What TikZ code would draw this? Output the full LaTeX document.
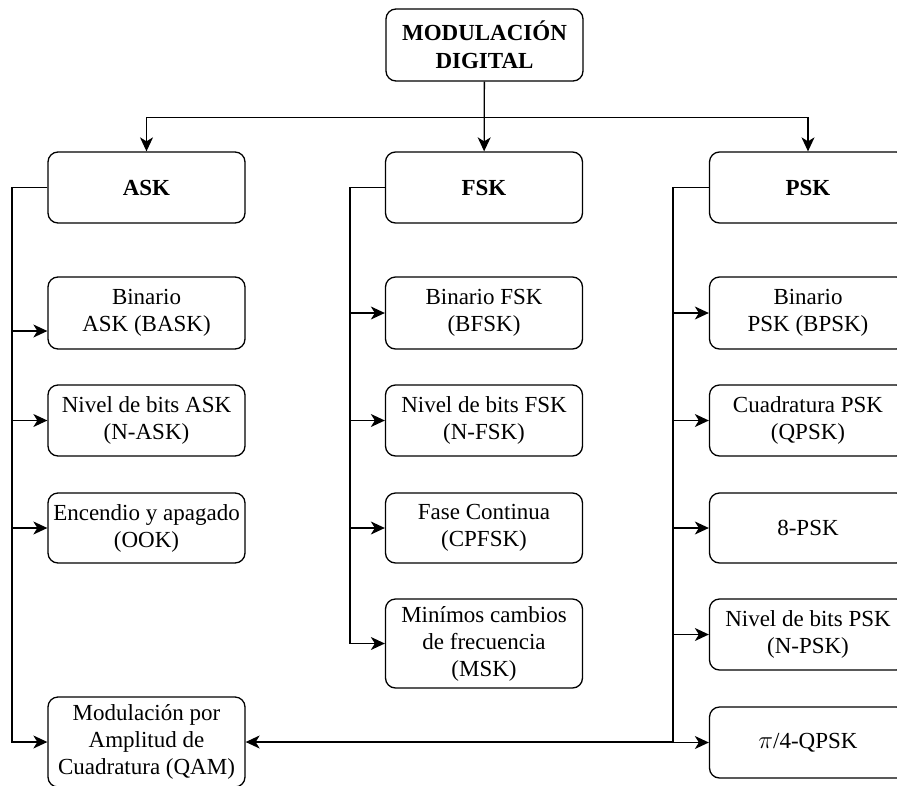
\documentclass[tikz,border=0pt]{standalone}
\usepackage{fontspec}
\setmainfont{LiberationSerif}[Extension=.ttf, UprightFont=*-Regular, BoldFont=*-Bold, ItalicFont=*-Italic]
\usetikzlibrary{arrows.meta}
\begin{document}
\begin{tikzpicture}[x=1pt, y=-1pt, line width=1.3pt,
  box/.style={draw, rounded corners=10pt, minimum width=197pt, minimum height=71pt,
    align=center, inner sep=1pt, font=\fontsize{23}{27}\selectfont},
  headbox/.style={box, font=\fontsize{23}{28}\selectfont\bfseries},
  arr/.style={-{Stealth[length=14pt, width=13pt, inset=4pt]}}]
  \useasboundingbox (0,0) rectangle (897,785);
  \node[headbox, minimum height=72pt] (mod) at (484.5,45) {MODULACIÓN\\DIGITAL};
  \node[headbox] (ask) at (146.5,187.5) {ASK};
  \node[headbox] (fsk) at (484,187.5) {FSK};
  \node[headbox] (psk) at (808,187.5) {PSK};
  \node[box, minimum height=72pt] (bask) at (146.5,313) {Binario\\ASK (BASK)};
  \node[box] (nask) at (146.5,420.5) {Nivel de bits ASK\\(N-ASK)};
  \node[box, minimum height=70pt] (ook) at (146.5,528) {Encendio y apagado\\(OOK)};
  \node[box, minimum height=90pt] (qam) at (146.5,742) {Modulación por\\Amplitud de\\Cuadratura (QAM)};
  \node[box, minimum height=72pt] (bfsk) at (484,313) {Binario FSK\\(BFSK)};
  \node[box] (nfsk) at (484,420.5) {Nivel de bits FSK\\(N-FSK)};
  \node[box, minimum height=70pt] (cpfsk) at (484,528) {Fase Continua\\(CPFSK)};
  \node[box, minimum height=89pt] (msk) at (484,643.5) {Minímos cambios\\de frecuencia\\(MSK)};
  \node[box, minimum height=72pt] (bpsk) at (808,313) {Binario\\PSK (BPSK)};
  \node[box] (qpsk) at (808,420.5) {Cuadratura PSK\\(QPSK)};
  \node[box, minimum height=70pt] (psk8) at (808,528) {8-PSK};
  \node[box] (npsk) at (808,634.5) {Nivel de bits PSK\\(N-PSK)};
  \node[box] (qpsk4) at (808,742.5) {$\pi$/4-QPSK};
  \coordinate (busa) at (12,187.5);
  \coordinate (busf) at (350,187.5);
  \coordinate (busp) at (673,187.5);
  \draw[arr] (mod) -- (fsk);
  \draw[arr] (mod.south) -- ++(0,36) -| (ask.north);
  \draw[arr] (mod.south) -- ++(0,36) -| (psk.north);
  \draw[arr] (ask.west) -- (busa) |- ([yshift=-18pt]bask.west);
  \draw[arr] (ask.west) -- (busa) |- (nask.west);
  \draw[arr] (ask.west) -- (busa) |- (ook.west);
  \draw[arr] (ask.west) -- (busa) |- (qam.west);
  \draw[arr] (fsk.west) -- (busf) |- (bfsk.west);
  \draw[arr] (fsk.west) -- (busf) |- (nfsk.west);
  \draw[arr] (fsk.west) -- (busf) |- (cpfsk.west);
  \draw[arr] (fsk.west) -- (busf) |- (msk.west);
  \draw[arr] (psk.west) -- (busp) |- (bpsk.west);
  \draw[arr] (psk.west) -- (busp) |- (qpsk.west);
  \draw[arr] (psk.west) -- (busp) |- (psk8.west);
  \draw[arr] (psk.west) -- (busp) |- (npsk.west);
  \draw[arr] (psk.west) -- (busp) |- (qpsk4.west);
  \draw[arr] (psk.west) -- (busp) |- (qam.east);
\end{tikzpicture}
\end{document}
